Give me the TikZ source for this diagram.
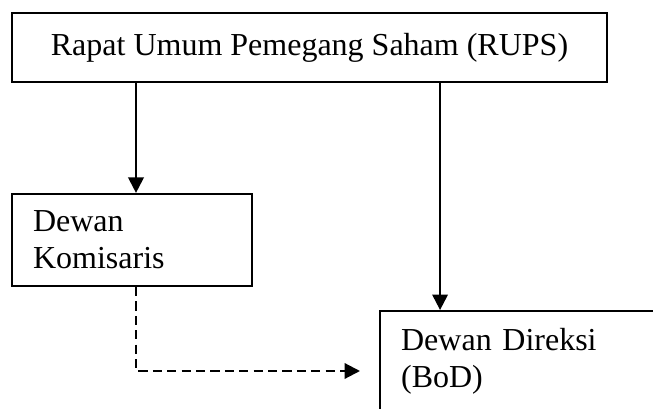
\documentclass[tikz,border=0pt]{standalone}
\usepackage{fontspec}
\setmainfont{Liberation Serif}
\usetikzlibrary{arrows.meta}

\tikzstyle{block} = [rectangle, draw=black, line width=0.8pt, font=\fontsize{12}{13.9}\selectfont]
\tikzstyle{arrow} = [line width=0.8pt, -{Triangle[length=5.8pt,width=5.8pt]}]
\tikzstyle{darrow} = [line width=0.8pt, dash pattern=on 3.4pt off 2pt, -{Triangle[length=5.8pt,width=5.8pt]}]

\begin{document}
\begin{tikzpicture}[x=0.375pt, y=-0.375pt]
\path [use as bounding box, clip] (0,0) rectangle (653,409);
\fill [white] (0,0) rectangle (653,409);

\node (rups) [block, minimum width=223.1pt, minimum height=25.9pt] at (309.5,47.5) {Rapat Umum Pemegang Saham (RUPS)};
\node (kom) [block, minimum width=90pt, minimum height=34.5pt, inner xsep=7.9pt, text width=74.2pt, align=left] at (132,240) {Dewan\\Komisaris};
\node (dir) [block, anchor=north west, minimum height=37.5pt, inner xsep=7.9pt, text width=97pt, align=left] at (379,310) {Dewan Direksi\\(BoD)};
\coordinate (dtip) at (360,371);

\draw [arrow] ([xshift=1.5pt]kom.north |- rups.south) -- ([xshift=1.5pt]kom.north);
\draw [arrow] ([xshift=22.9pt]dir.north west |- rups.south) -- ([xshift=22.9pt]dir.north west);
\draw [darrow] ([xshift=1.5pt]kom.south) |- (dtip);
\end{tikzpicture}
\end{document}
